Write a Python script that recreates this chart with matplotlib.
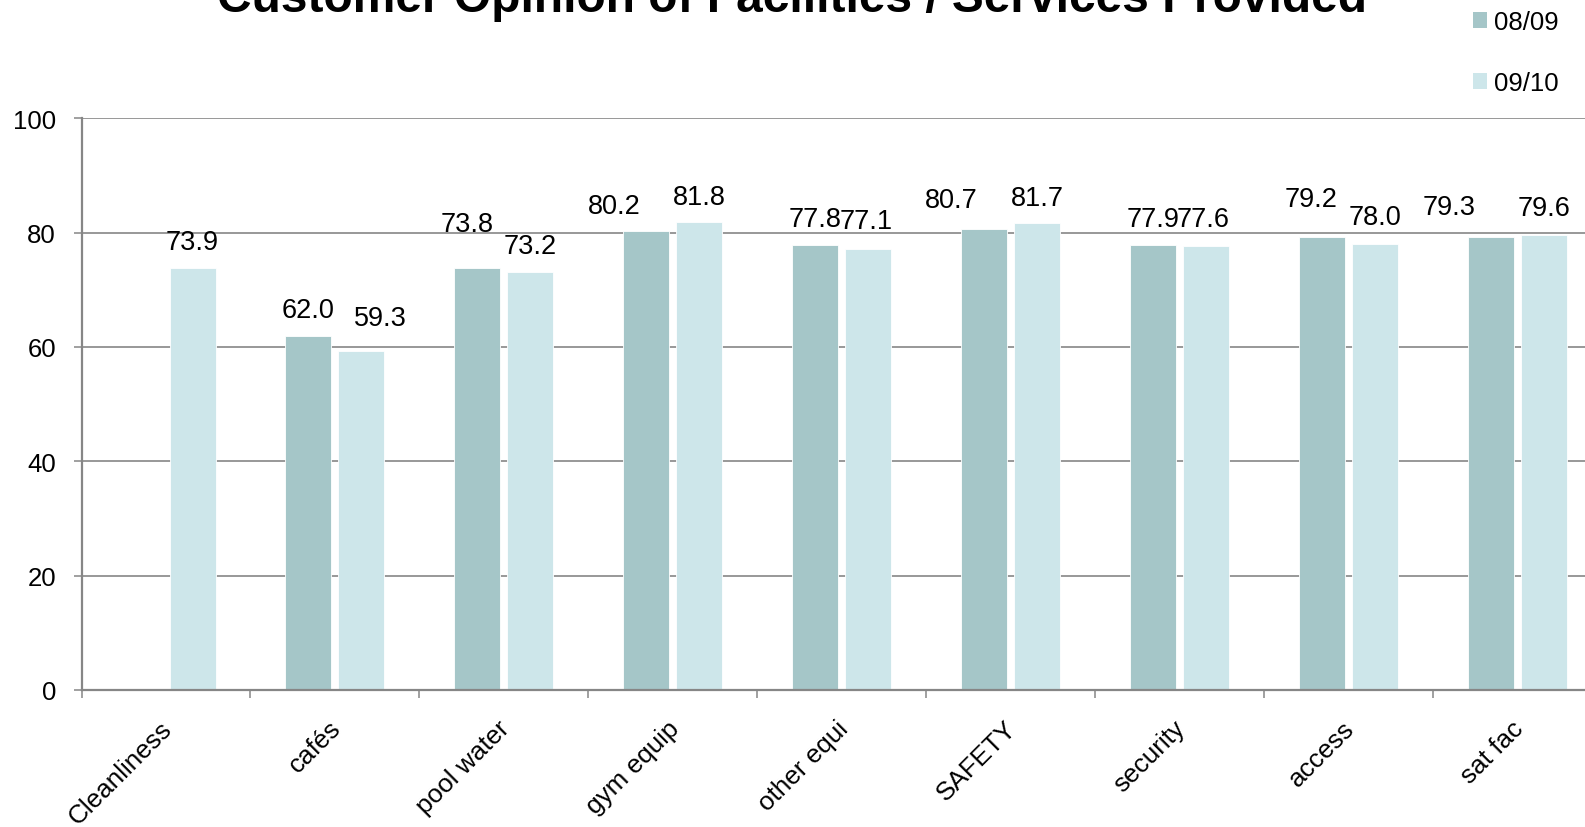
import numpy as np
import matplotlib.pyplot as plt
import matplotlib.transforms as mtransforms
from matplotlib.patches import Patch

plt.rcParams['font.family'] = ['Liberation Sans', 'DejaVu Sans']

# ####################################################################
# data
categories = ["Cleanliness", "cafés", "pool water", "gym equip", "other equi",
              "SAFETY", "security", "access", "sat fac"]
series_names = ["08/09", "09/10"]
s_0809 = [np.nan, 62.0, 73.8, 80.2, 77.8, 80.7, 77.9, 79.2, 79.3]
s_0910 = [73.9, 59.3, 73.2, 81.8, 77.1, 81.7, 77.6, 78.0, 79.6]
title = "Customer Opinion of Facilities / Services Provided"

# label nudges (pixels) like in the original sheet, where some were dragged
nudge_0809 = [(0, 0), (0, 26), (-10, 44), (-32, 25), (0, 26),
              (-33, 29), (0, 26), (-11, 38), (-42, 30)]
nudge_0910 = [(0, 26), (19, 33), (0, 26), (0, 25), (-2, 28),
              (0, 25), (-3, 27), (0, 27), (0, 27)]

dark = "#A5C6C8"
light = "#CDE6EA"
grey = "#868686"

# ####################################################################
W, H = 1585, 828
fig = plt.figure(figsize=(W / 100, H / 100), dpi=100)
# right part of the plot runs past the picture edge, as in the reference
ax = fig.add_axes([81.6 / W, (H - 691) / H, 1520 / W, 571.7 / H])

x = np.arange(len(categories))
bw = 0.272
off = 0.157
a = np.array(s_0809)
b = np.array(s_0910)
ok = ~np.isnan(a)
ax.bar(x[ok] - off, a[ok], bw, color=dark, edgecolor="white", linewidth=0.6, zorder=3)
ax.bar(x + off, b, bw, color=light, edgecolor="white", linewidth=0.6, zorder=3)

for i in range(len(categories)):
    if ok[i]:
        ax.annotate(f"{a[i]:.1f}", (x[i] - off, a[i]), xytext=nudge_0809[i],
                    textcoords="offset pixels", ha="center", va="center", fontsize=19.5)
    ax.annotate(f"{b[i]:.1f}", (x[i] + off, b[i]), xytext=nudge_0910[i],
                textcoords="offset pixels", ha="center", va="center", fontsize=19.5)

ax.set_xlim(-0.5, len(categories) - 0.5)
ax.set_ylim(0, 100)
ax.set_yticks(np.arange(0, 101, 20))
ax.yaxis.grid(True, color=grey, linewidth=1.2, zorder=0)
ax.set_axisbelow(True)
for s in ["top", "right"]:
    ax.spines[s].set_visible(False)
for s in ["left", "bottom"]:
    ax.spines[s].set_color(grey)
    ax.spines[s].set_linewidth(1.6)
ax.spines["bottom"].set_zorder(4)

ax.tick_params(axis="y", length=5.5, width=1.1, color=grey, pad=13, labelsize=18.5)
ax.set_xticks(x)
ax.set_xticklabels(categories, rotation=45, ha="right", rotation_mode="anchor")
ax.tick_params(axis="x", which="major", length=0, pad=20, labelsize=18.8)
shift = mtransforms.ScaledTranslation(-6 / 100, 2 / 100, fig.dpi_scale_trans)
for lab in ax.get_xticklabels():
    lab.set_transform(lab.get_transform() + shift)
ax.set_xticks(np.arange(-0.5, len(categories), 1), minor=True)
ax.tick_params(axis="x", which="minor", length=6, width=1.1, color=grey)

fig.text(0.4995, 1 - 12.5 / H, title, ha="center", va="baseline",
         fontsize=34.5, fontweight="bold")

handles = [Patch(facecolor=dark, edgecolor="none"), Patch(facecolor=light, edgecolor="none")]
fig.legend(handles, series_names, loc="upper left", bbox_to_anchor=(1473 / W, 1 - 11 / H),
           frameon=False, fontsize=18.5, borderpad=0, borderaxespad=0,
           handlelength=0.55, handleheight=0.55, handletextpad=0.25, labelspacing=1.45)

fig.savefig("out.png", dpi=100)
